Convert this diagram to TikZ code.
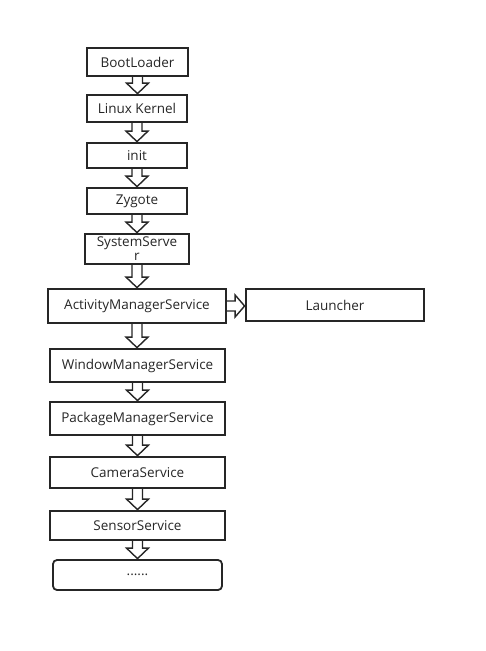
\documentclass[tikz,border=0pt]{standalone}
\usepackage{fontspec}
\setmainfont{Open Sans}
\usetikzlibrary{calc}
\tikzset{
  box/.style={draw=black!85, line width=1.8pt, inner sep=0pt, align=center, font=\fontsize{13.5}{15}\selectfont, text=black!85},
  blockarr/.style={draw=black!85, line width=1.4pt, line join=miter},
}
\newcommand\downarr[2]{%
  \draw[blockarr] let \p1=(#1.south), \p2=(#2.north) in
    (\x1-5pt,\y1) -- (\x1-5pt,\y2+11pt) -- (\x1-11pt,\y2+11pt) -- (\x1,\y2+0.5pt)
    -- (\x1+11pt,\y2+11pt) -- (\x1+5pt,\y2+11pt) -- (\x1+5pt,\y1);}
\newcommand\rightarr[2]{%
  \draw[blockarr] let \p1=(#1.east), \p2=(#2.west) in
    (\x1,\y1+5pt) -- (\x2-10pt,\y1+5pt) -- (\x2-10pt,\y1+11pt) -- (\x2-0.5pt,\y1)
    -- (\x2-10pt,\y1-11pt) -- (\x2-10pt,\y1-5pt) -- (\x1,\y1-5pt);}
\begin{document}
\begin{tikzpicture}[x=1pt,y=-1pt]
\useasboundingbox[fill=white] (0,0) rectangle (486,651);
\node[box, minimum width=101pt, minimum height=28pt] (boot) at (137.5,62) {BootLoader};
\node[box, minimum width=100pt, minimum height=27pt] (kernel) at (137,108.5) {Linux Kernel};
\node[box, minimum width=100pt, minimum height=25pt] (init) at (137,155.5) {init};
\node[box, minimum width=100pt, minimum height=26pt] (zygote) at (137,201) {Zygote};
\node[box, minimum width=104pt, minimum height=30pt, font=\fontsize{13.5}{14}\selectfont] (sys) at (137,249) {SystemServe\\r};
\node[box, minimum width=178pt, minimum height=34pt] (ams) at (137,306) {ActivityManagerService};
\node[box, minimum width=178pt, minimum height=32pt] (launcher) at (335,305) {Launcher};
\node[box, minimum width=175pt, minimum height=33pt] (wms) at (137.5,365.5) {WindowManagerService};
\node[box, minimum width=175pt, minimum height=33pt] (pms) at (137.5,418.5) {PackageManagerService};
\node[box, minimum width=175pt, minimum height=31pt] (cam) at (137.5,472.5) {CameraService};
\node[box, minimum width=175pt, minimum height=29pt] (sensor) at (137.5,525.5) {SensorService};
\node[box, rounded corners=4pt, minimum width=169pt, minimum height=30pt] (more) at (137.5,575) {......};
\downarr{boot}{kernel}
\downarr{kernel}{init}
\downarr{init}{zygote}
\downarr{zygote}{sys}
\downarr{sys}{ams}
\downarr{ams}{wms}
\downarr{wms}{pms}
\downarr{pms}{cam}
\downarr{cam}{sensor}
\downarr{sensor}{more}
\rightarr{ams}{launcher}
\end{tikzpicture}
\end{document}
